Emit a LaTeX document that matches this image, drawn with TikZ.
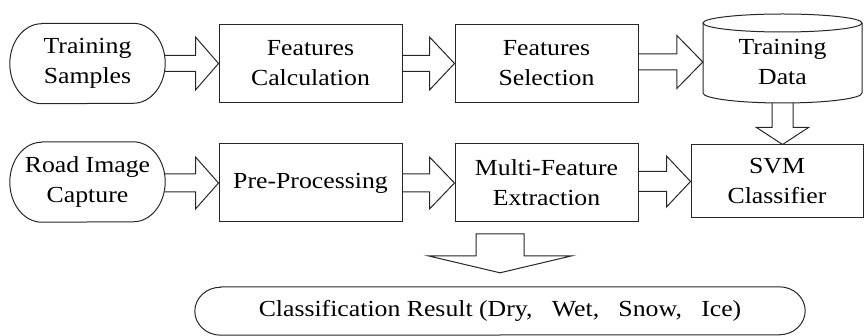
\documentclass[tikz,border=0pt]{standalone}
\usepackage{fontspec}
\setmainfont[FakeStretch=1.12]{Liberation Serif}
\usetikzlibrary{calc}
\newcommand\fsz{\fontsize{23}{30}\selectfont}
\tikzset{
  ln/.style={draw=black!85, line width=1pt, line join=miter},
  box/.style={ln, minimum width=183pt, minimum height=78pt, align=center, font=\fsz, inner sep=0pt},
  term/.style={minimum width=155pt, minimum height=80pt, align=center, font=\fsz, inner sep=0pt},
  barrow/.style={ln},
}
% horizontal block arrow: from, to, head length, shaft half, head half
\newcommand\harrow[5]{%
  \draw[barrow] ($(#1.east |- #2.west)+(0,-#4)$) -- ($(#2.west)+(-#3,-#4)$) -- ($(#2.west)+(-#3,-#5)$)
    -- (#2.west) -- ($(#2.west)+(-#3,#5)$) -- ($(#2.west)+(-#3,#4)$) -- ($(#1.east |- #2.west)+(0,#4)$);}
% stadium outline round a node: name, x radius, y radius
\newcommand\stadium[3]{%
  \draw[ln] ($(#1.north west)+(#2,0)$) -- ($(#1.north east)+(-#2,0)$)
    arc[start angle=-90,end angle=90,x radius=#2,y radius=#3]
    -- ($(#1.south west)+(#2,0)$)
    arc[start angle=90,end angle=270,x radius=#2,y radius=#3] -- cycle;}
\begin{document}
\begin{tikzpicture}[x=1pt,y=-1pt]
\useasboundingbox (0,0) rectangle (864,336);
% row 1
\node[term] (ts) at (87.5,63.5) {Training\\Samples};
\stadium{ts}{32}{40}
\node[box] (fc) at (310.5,63.5) {Features\\Calculation};
\node[box] (fs) at (546.5,63.5) {Features\\Selection};
\node[minimum width=159pt, minimum height=80pt, align=center, font=\fsz, inner sep=0pt] (td) at (782.5,62) {Training\\Data};
\draw[ln] ($(td.center)+(-79.5,-39)$) -- ($(td.center)+(-79.5,31)$)
  arc[start angle=180,end angle=0,x radius=79.5,y radius=10]
  -- ($(td.center)+(79.5,-39)$);
\draw[ln] ($(td.center)+(0,-39)$) ellipse[x radius=79.5, y radius=9];
% row 2
\node[term] (ric) at (87.5,182) {Road Image\\Capture};
\stadium{ric}{32}{40}
\node[box] (pp) at (310.5,183) {Pre-Processing};
\node[box] (mfe) at (546.5,183) {Multi-Feature\\Extraction};
\node[box, minimum width=172pt, minimum height=73pt] (svm) at (777,181.5) {SVM\\Classifier};
% result
\node[minimum width=610pt, minimum height=48pt, font=\fsz, inner sep=0pt] (res) at (500,311)
  {Classification Result (Dry,\ \ \ Wet,\ \ \ Snow,\ \ \ Ice)};
\stadium{res}{26}{24}
% horizontal arrows
\harrow{ts}{fc}{23}{8}{26.5}
\harrow{fc}{fs}{25}{8}{26.5}
\harrow{fs}{td}{26}{8}{26.5}
\harrow{ric}{pp}{23}{9}{26}
\harrow{pp}{mfe}{25}{9}{26}
\harrow{mfe}{svm}{24}{10}{25.5}
% vertical arrow training data -> svm
\coordinate (tdb) at ($(td.center)+(0,41)$);
\coordinate (svt) at (tdb |- svm.north);
\draw[barrow] ($(tdb)+(-10.5,0)$) -- ($(svt)+(-10.5,-17)$) -- ($(svt)+(-26,-17)$) -- (svt)
  -- ($(svt)+(26,-17)$) -- ($(svt)+(10.5,-17)$) -- ($(tdb)+(10.5,0)$);
% vertical arrow to result
\coordinate (rt) at ($(res.north)+(0,-14)$);
\draw[barrow] ($(rt)+(-24,-17)$) -- ($(rt)+(-24,-39)$) -- ($(rt)+(24,-39)$) -- ($(rt)+(24,-17)$)
  -- ($(rt)+(72,-17)$) -- (rt) -- ($(rt)+(-72,-17)$) -- cycle;
\end{tikzpicture}
\end{document}
